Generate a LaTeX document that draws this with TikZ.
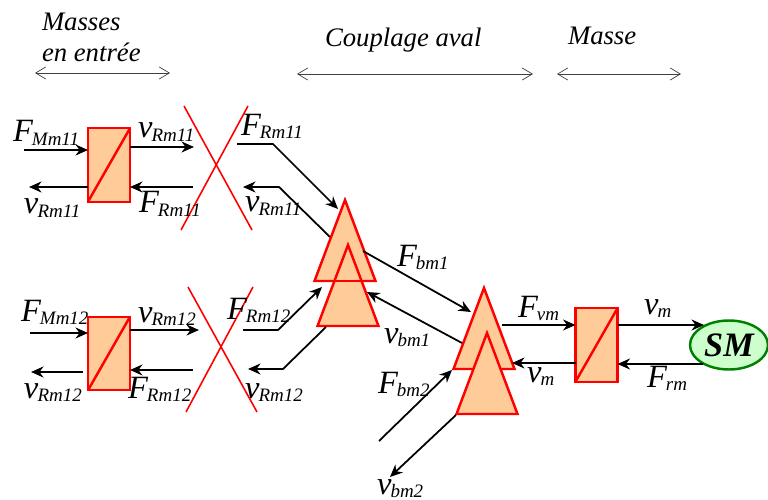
\documentclass[tikz,border=0pt]{standalone}
\usepackage{fontspec}
\setmainfont{Liberation Serif}
\usepackage{xcolor}
\usepackage{tikz}
\usetikzlibrary{shapes.geometric, arrows.meta, positioning}

\definecolor{boxfill}{RGB}{255,204,153}
\definecolor{smfill}{RGB}{204,255,204}
\definecolor{smline}{RGB}{0,128,0}
\newcommand{\sig}[2]{#1\kern-0.5pt\raisebox{-2pt}{\fontsize{10.8}{12}\selectfont #2}}

\begin{document}
\begin{tikzpicture}[
        x=0.02cm, y=-0.02cm,
        every node/.style={font=\fontsize{18.5}{20}\selectfont\itshape, inner sep=0pt, outer sep=0pt},
        label/.style={anchor=base west},
        title/.style={anchor=base west, font=\fontsize{15.2}{17}\selectfont\itshape},
        conv/.style={draw=red, fill=boxfill, line width=1.4pt, rectangle, minimum width=0.84cm, minimum height=1.47cm},
        coupl/.style={draw=red, fill=boxfill, line width=1.4pt, isosceles triangle, isosceles triangle stretches, shape border rotate=90, minimum width=1.22cm, minimum height=1.62cm, anchor=apex},
        sm/.style={draw=smline, fill=smfill, line width=1.4pt, ellipse, minimum width=1.56cm, minimum height=0.98cm, font=\fontsize{19.5}{20}\selectfont\itshape\bfseries},
        message/.style={-{Stealth[length=0.25cm, width=0.22cm]}, line width=1pt},
        span/.style={{Straight Barb[length=0.2cm, width=0.24cm]}-{Straight Barb[length=0.2cm, width=0.24cm]}, line width=0.4pt, draw=black!75},
        crossline/.style={draw=red, line width=0.9pt},
        redline/.style={draw=red, line width=1.4pt}
    ]
    \useasboundingbox (0,0) rectangle (768,500);

    % Titles
    \node (titleA) [title] at (42,31) {Masses};
    \node (titleB) [title] at (42,62) {en entrée};
    \node (titleC) [title] at (325,47) {Couplage aval};
    \node (titleD) [title] at (568,45) {Masse};
    \coordinate (spanA) at (35,73);
    \coordinate (spanB) at (170,73);
    \coordinate (spanC) at (297,74);
    \coordinate (spanD) at (533,74);
    \coordinate (spanE) at (557,74);
    \coordinate (spanF) at (681,74);
    \draw [span] (spanA) -- (spanB);
    \draw [span] (spanC) -- (spanD);
    \draw [span] (spanE) -- (spanF);

    % Blocks
    \node (m11) [conv] at (109,165) {};
    \node (m12) [conv] at (109,353.5) {};
    \node (mm) [conv] at (596.5,345) {};
    \foreach \b in {m11, m12, mm}
        \draw [redline] (\b.south west) -- (\b.north east);
    \node (t1) [coupl] at (345,200) {};
    \node (t2) [coupl] at (348,245) {};
    \draw [redline] (t1.left corner) -- (t1.right corner);
    \node (t3) [coupl] at (484,288) {};
    \node (t4) [coupl] at (487,333) {};
    \node (SM) [sm] at (729,345) {SM};

    % Crosses
    \coordinate (x1a) at (184,106);
    \coordinate (x1b) at (252,230);
    \coordinate (x1c) at (248,106);
    \coordinate (x1d) at (181,230);
    \coordinate (x2a) at (188,287);
    \coordinate (x2b) at (257,412);
    \coordinate (x2c) at (253,287);
    \coordinate (x2d) at (186,412);
    \draw [crossline] (x1a) -- (x1b);
    \draw [crossline] (x1c) -- (x1d);
    \draw [crossline] (x2a) -- (x2b);
    \draw [crossline] (x2c) -- (x2d);

    % Upper input
    \coordinate (a1) at (24,150);
    \coordinate (a2) at (194,147);
    \coordinate (a3) at (193,187);
    \coordinate (a4) at (29,187);
    \draw [message] (a1) -- (m11.west |- a1);
    \draw [message] (m11.east |- a2) -- (a2);
    \draw [message] (a3) -- (m11.east |- a3);
    \draw [message] (m11.west |- a4) -- (a4);
    \coordinate (b1) at (237,144);
    \coordinate (b2) at (273,144);
    \coordinate (b3) at (338,209);
    \coordinate (b4) at (330,237);
    \coordinate (b5) at (279,187);
    \coordinate (b6) at (243,187);
    \draw [message] (b1) -- (b2) -- (b3);
    \draw [message] (b4) -- (b5) -- (b6);

    % Lower input
    \coordinate (c1) at (30,333);
    \coordinate (c2) at (199,330);
    \coordinate (c3) at (193,370);
    \coordinate (c4) at (83,372);
    \coordinate (c5) at (31,372);
    \draw [message] (c1) -- (m12.west |- c1);
    \draw [message] (m12.east |- c2) -- (c2);
    \draw [message] (c3) -- (m12.east |- c3);
    \draw [message] (c4) -- (c5);
    \coordinate (d1) at (243,330);
    \coordinate (d2) at (278,330);
    \coordinate (d3) at (322,287);
    \coordinate (d4) at (326,327);
    \coordinate (d5) at (283,369);
    \coordinate (d6) at (248,369);
    \draw [message] (d1) -- (d2) -- (d3);
    \draw [message] (d4) -- (d5) -- (d6);

    % Coupling
    \coordinate (e1) at (363,251);
    \coordinate (e2) at (471,312);
    \coordinate (e3) at (462,343);
    \coordinate (e4) at (367,292);
    \coordinate (e5) at (379,441);
    \coordinate (e6) at (452,370);
    \coordinate (e7) at (456,415);
    \coordinate (e8) at (390,477);
    \draw [message] (e1) -- (e2);
    \draw [message] (e3) -- (e4);
    \draw [message] (e5) -- (e6);
    \draw [message] (e7) -- (e8);

    % Output
    \coordinate (f1) at (502,325);
    \coordinate (f2) at (512,363);
    \coordinate (f3) at (704,325);
    \coordinate (f4) at (703,364);
    \draw [message] (f1) -- (mm.west |- f1);
    \draw [message] (mm.west |- f2) -- (f2);
    \draw [message] (mm.east |- f3) -- (f3);
    \draw [message] (f4) -- (mm.east |- f4);

    % Labels
    \node (l1) [label] at (13,142) {\sig{F}{Mm11}};
    \node (l2) [label] at (138,138) {\sig{v}{Rm11}};
    \node (l3) [label] at (241,135) {\sig{F}{Rm11}};
    \node (l4) [label] at (139,213) {\sig{F}{Rm11}};
    \node (l5) [label] at (24,214) {\sig{v}{Rm11}};
    \node (l6) [label] at (245,212) {\sig{v}{Rm11}};
    \node (l7) [label] at (21,321) {\sig{F}{Mm12}};
    \node (l8) [label] at (138,322) {\sig{v}{Rm12}};
    \node (l9) [label] at (227,319) {\sig{F}{Rm12}};
    \node (l10) [label] at (128,398) {\sig{F}{Rm12}};
    \node (l11) [label] at (24,398) {\sig{v}{Rm12}};
    \node (l12) [label] at (245,398) {\sig{v}{Rm12}};
    \node (l13) [label] at (397,266) {\sig{F}{bm1}};
    \node (l14) [label] at (384,343) {\sig{v}{bm1}};
    \node (l15) [label] at (378,393) {\sig{F}{bm2}};
    \node (l16) [label] at (377,494) {\sig{v}{bm2}};
    \node (l17) [label] at (518,317) {\sig{F}{vm}};
    \node (l18) [label] at (527,382) {\sig{v}{m}};
    \node (l19) [label] at (644,314) {\sig{v}{m}};
    \node (l20) [label] at (647,387) {\sig{F}{rm}};
\end{tikzpicture}
\end{document}
